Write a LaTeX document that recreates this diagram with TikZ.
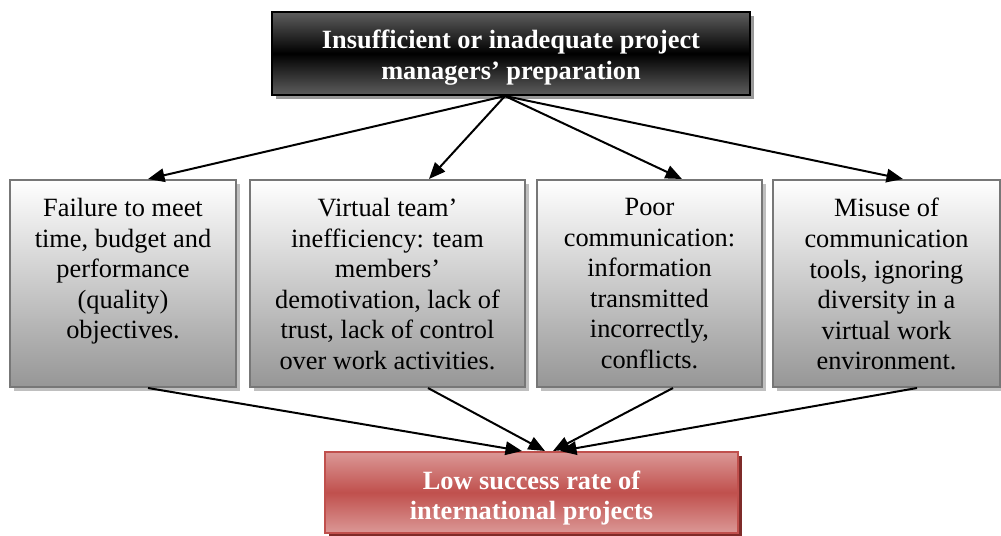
\documentclass[tikz,border=0pt]{standalone}
\usepackage{fontspec}
\setmainfont{Liberation Serif}
\usetikzlibrary{positioning,shadows,arrows.meta}
\definecolor{capgray}{HTML}{5E5E5E}
\definecolor{boxline}{HTML}{777777}
\definecolor{boxshade}{HTML}{969696}
\definecolor{effred}{HTML}{C0504D}
\definecolor{effpink}{HTML}{DB9896}
\definecolor{effdark}{HTML}{7E2B29}

\tikzset{
	box/.style={rectangle,line width=0.04cm,inner sep=0pt},
	cause/.style={box,draw=boxline,top color=white,bottom color=boxshade,minimum height=4.14cm,
		drop shadow={shadow xshift=0.07cm,shadow yshift=-0.07cm,fill=black!25,opacity=1}},
	boxtext/.style={align=center,inner sep=0pt,font=\fontsize{15}{17.4}\selectfont},
	arr/.style={-{Triangle[length=0.33cm,width=0.27cm]},line width=0.04cm},
}

\begin{document}
\begin{tikzpicture}
		\useasboundingbox (0,0) rectangle (20.02,-10.7);
		
		% cause at the top
		\node[box,draw=black,top color=capgray,bottom color=capgray,middle color=black,minimum width=9.56cm,minimum height=1.66cm,
			drop shadow={shadow xshift=0.08cm,shadow yshift=-0.08cm,fill=black!40,opacity=1}] (prep) at (10.22,-1.07) {};
		\node[boxtext,text=white,font=\fontsize{15}{17.4}\selectfont\bfseries,below=0.38cm of prep.north] (prept) {Insufficient or inadequate project\\managers’ preparation};
		
		% the four consequences
		\node[cause,minimum width=4.52cm] (c1) at (2.46,-5.67) {};
		\node[cause,minimum width=5.5cm,right=0.24cm of c1] (c2) {};
		\node[cause,minimum width=4.5cm,right=0.2cm of c2] (c3) {};
		\node[cause,minimum width=4.54cm,right=0.18cm of c3] (c4) {};
		
		\node[boxtext,below=0.38cm of c1.north] (t1) {Failure to meet\\time, budget and\\performance\\(quality)\\objectives.};
		\node[boxtext,below=0.38cm of c2.north] (t2) {Virtual team’\\inefficiency: team\\members’\\demotivation, lack of\\trust, lack of control\\over work activities.};
		\node[boxtext,below=0.38cm of c3.north] (t3) {Poor\\communication:\\information\\transmitted\\incorrectly,\\conflicts.};
		\node[boxtext,below=0.38cm of c4.north] (t4) {Misuse of\\communication\\tools, ignoring\\diversity in a\\virtual work\\environment.};
		
		% outcome at the bottom
		\node[box,draw=effred,top color=effpink,bottom color=effpink,middle color=effred,minimum width=8.26cm,minimum height=1.62cm,
			drop shadow={shadow xshift=0.07cm,shadow yshift=-0.07cm,fill=effdark,opacity=1}] (rate) at (10.63,-9.85) {};
		\node[boxtext,text=white,font=\fontsize{15}{17.4}\selectfont\bfseries,below=0.39cm of rate.north] (ratet) {Low success rate of\\international projects};
		
		\coordinate[shift={(-0.12,0)}] (fork) at (prep.south);
		\foreach \i/\dx in {1/0.5,2/0.83,3/0.65,4/0.33}{%
			\coordinate[shift={(\dx,0)}] (in\i) at (c\i.north);
			\draw[arr] (fork)--(in\i);
		}
		\foreach \i/\dx/\ex in {1/0.5/-0.19,2/0.81/0.27,3/0.47/0.43,4/0.61/0.57}{%
			\coordinate[shift={(\dx,0)}] (out\i) at (c\i.south);
			\coordinate[shift={(\ex,0)}] (hit\i) at (rate.north);
			\draw[arr] (out\i)--(hit\i);
		}
	\end{tikzpicture}
\end{document}
